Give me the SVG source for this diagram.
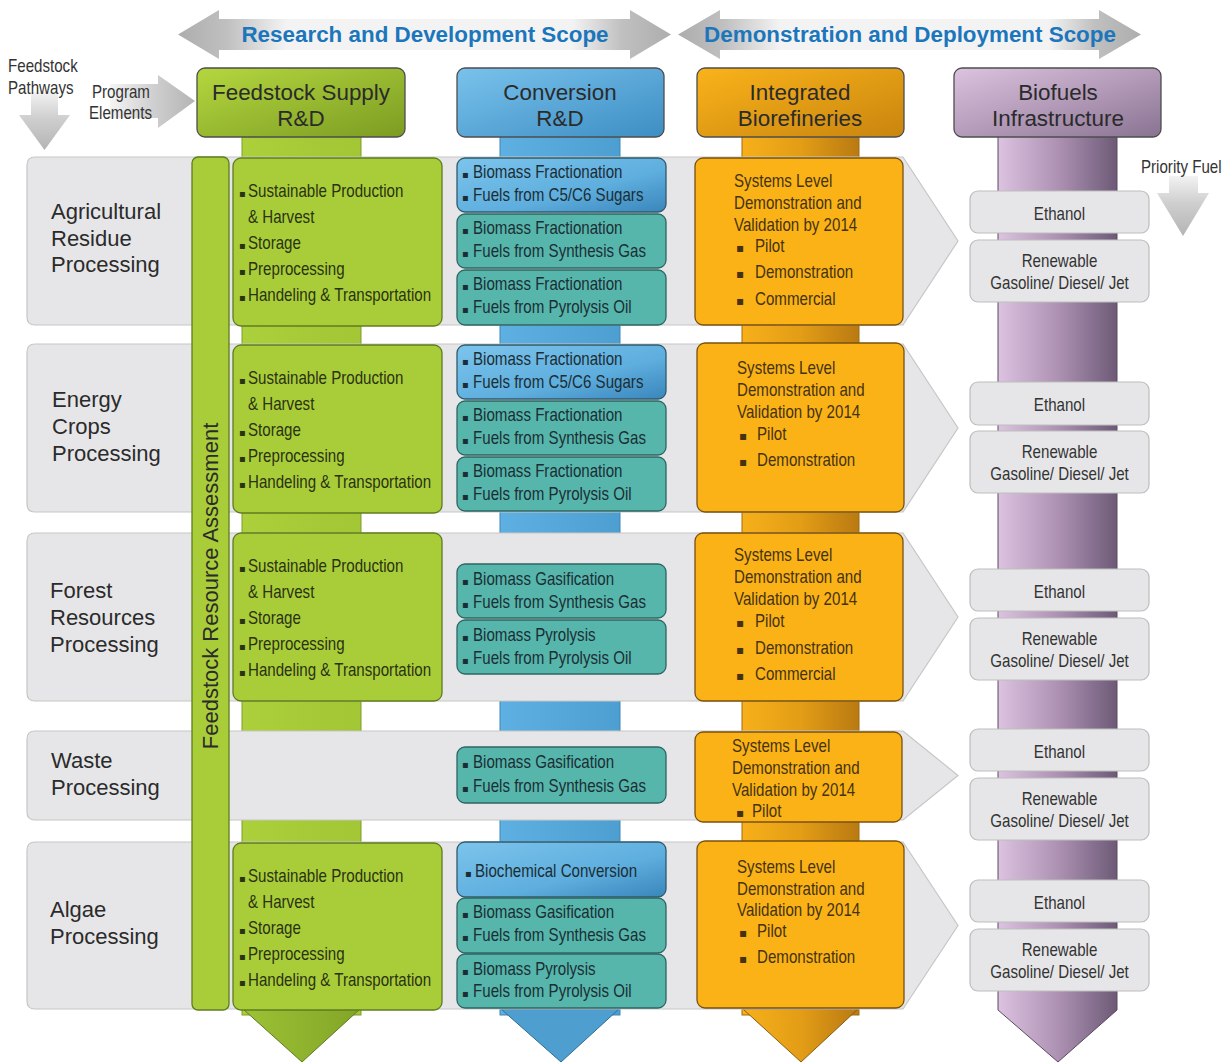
<svg xmlns="http://www.w3.org/2000/svg" width="1231" height="1064" viewBox="0 0 1231 1064">
<defs>
<linearGradient id="gScope" x1="0" y1="0" x2="1" y2="0">
<stop offset="0" stop-color="#adadad"/><stop offset="0.1" stop-color="#c0c0c0"/><stop offset="0.22" stop-color="#f3f3f3"/><stop offset="0.8" stop-color="#f3f3f3"/><stop offset="0.9" stop-color="#c0c0c0"/><stop offset="1" stop-color="#adadad"/>
</linearGradient>
<linearGradient id="gDown" x1="0" y1="0" x2="0" y2="1">
<stop offset="0" stop-color="#f2f2f2"/><stop offset="0.45" stop-color="#cfcfcf"/><stop offset="1" stop-color="#b4b4b4"/>
</linearGradient>
<linearGradient id="gRight" x1="0" y1="0" x2="1" y2="0">
<stop offset="0" stop-color="#f4f4f4"/><stop offset="0.5" stop-color="#d0d0d0"/><stop offset="1" stop-color="#b4b4b4"/>
</linearGradient>
<linearGradient id="gGreenH" x1="0" y1="0" x2="1" y2="1">
<stop offset="0" stop-color="#b4d73f"/><stop offset="1" stop-color="#7c9c22"/>
</linearGradient>
<linearGradient id="gBlueH" x1="0" y1="0" x2="1" y2="1">
<stop offset="0" stop-color="#79c2ec"/><stop offset="1" stop-color="#3d8ec4"/>
</linearGradient>
<linearGradient id="gOrangeH" x1="0" y1="0" x2="1" y2="1">
<stop offset="0" stop-color="#fab31a"/><stop offset="1" stop-color="#c9850f"/>
</linearGradient>
<linearGradient id="gPurpleH" x1="0" y1="0" x2="1" y2="1">
<stop offset="0" stop-color="#dcc4e0"/><stop offset="1" stop-color="#8a7292"/>
</linearGradient>
<linearGradient id="gGreenS" x1="0" y1="0" x2="1" y2="0">
<stop offset="0" stop-color="#acd03b"/><stop offset="1" stop-color="#a2c634"/>
</linearGradient>
<linearGradient id="gGreenT" x1="0" y1="0" x2="1" y2="0">
<stop offset="0" stop-color="#9cc235"/><stop offset="1" stop-color="#83a527"/>
</linearGradient>
<linearGradient id="gBlueS" x1="0" y1="0" x2="1" y2="0">
<stop offset="0" stop-color="#5eb0e2"/><stop offset="1" stop-color="#4d9fd2"/>
</linearGradient>
<linearGradient id="gOrangeS" x1="0" y1="0" x2="1" y2="0">
<stop offset="0" stop-color="#f7b01a"/><stop offset="0.5" stop-color="#e39d16"/><stop offset="1" stop-color="#b97a12"/>
</linearGradient>
<linearGradient id="gPurpleS" x1="0" y1="0" x2="1" y2="0">
<stop offset="0" stop-color="#dcc3e0"/><stop offset="0.5" stop-color="#ae92b4"/><stop offset="1" stop-color="#6d5a77"/>
</linearGradient>
<linearGradient id="gBlueBox" x1="0" y1="0" x2="1" y2="1">
<stop offset="0" stop-color="#7cc4ec"/><stop offset="0.6" stop-color="#5eaede"/><stop offset="1" stop-color="#3a86bc"/>
</linearGradient>
</defs>
<style>
.t{font-family:"Liberation Sans",Arial,sans-serif;fill:#2b2b2b}
.n{font-family:"Liberation Sans",Arial,sans-serif;font-size:18px}
.b{font-family:"DejaVu Sans",sans-serif;font-size:10px}
.bo{font-family:"DejaVu Sans",sans-serif;font-size:12px}
.scope{font-family:"Liberation Sans",Arial,sans-serif;font-weight:bold;font-size:22.4px;fill:#1b76bc}
.hd{font-size:22.4px;text-anchor:middle}
.lbl{font-size:22px}
.band{fill:#e6e6e8;stroke:#c6c6c6;stroke-width:1.2}
.gbox{fill:#a9cd39;stroke:#5f7c20;stroke-width:1.3}
.gtx{fill:#2a3212}
.bbox{fill:url(#gBlueBox);stroke:#2f5b6c;stroke-width:1.3}
.tbox{fill:#56b6ac;stroke:#2e6662;stroke-width:1.3}
.ctx{fill:#1c2e34}
.obox{fill:#fbb216;stroke:#7a5210;stroke-width:1.3}
.otx{fill:#453212}
.fbox{fill:#e6e6e8;stroke:#bdbdbd;stroke-width:1.2}
.ftx{fill:#333;text-anchor:middle}
.gry{fill:#333}
.hbox{stroke:#4d4d4d;stroke-width:1.3}
.stem{stroke-width:1}
</style>

<g id="connectors">
<polygon points="178,34.5 219,10 219,19 630,19 630,10 671,34.5 630,59 630,50 219,50 219,59" fill="url(#gScope)"/>
<polygon points="678,34.5 720,10 720,19 1099,19 1099,10 1141,34.5 1099,59 1099,50 720,50 720,59" fill="url(#gScope)"/>
<polygon points="31,92 58,92 58,115 70,115 44.5,150 19,115 31,115" fill="url(#gDown)"/>
<polygon points="110,84 158,84 158,75 195,101 158,128 158,118 110,118" fill="url(#gRight)"/>
<polygon points="1169,176 1198,176 1198,193 1209,193 1183,236 1157,193 1169,193" fill="url(#gDown)"/>
</g>

<g id="labels-top">
<text class="scope" x="425" y="42" text-anchor="middle">Research and Development Scope</text>
<text class="scope" x="910" y="42" text-anchor="middle">Demonstration and Deployment Scope</text>
<text class="n gry" transform="translate(8,72) scale(0.84,1)">Feedstock</text>
<text class="n gry" transform="translate(8,94) scale(0.84,1)">Pathways</text>
<text class="n gry" transform="translate(92,98) scale(0.84,1)">Program</text>
<text class="n gry" transform="translate(89,119) scale(0.84,1)">Elements</text>
<text class="n gry" transform="translate(1141,173) scale(0.84,1)">Priority Fuel</text>
</g>

<g id="stems">
<g id="stem-feedstock">
<rect x="242" y="130" width="119" height="885" fill="url(#gGreenS)" stroke="#7f9d2a" class="stem"/>
<polygon points="243,1009 360,1009 302,1062" fill="url(#gGreenT)" stroke="#5f7a20" stroke-width="1"/>
</g>
<g id="stem-conversion">
<rect x="500" y="130" width="120" height="885" fill="url(#gBlueS)" stroke="#3f86b3" class="stem"/>
<polygon points="501,1009 619,1009 561,1062" fill="#4e9fd0" stroke="#2f6d94" stroke-width="1"/>
</g>
<g id="stem-integrated">
<rect x="742" y="130" width="117" height="885" fill="url(#gOrangeS)" stroke="#a06a10" class="stem"/>
<polygon points="743,1009 858,1009 801,1062" fill="url(#gOrangeS)" stroke="#8a5a10" stroke-width="1"/>
</g>
<g id="stem-infrastructure">
<path d="M998,130 H1117 V1010 L1058,1062 L998,1010 Z" fill="url(#gPurpleS)" stroke="#5a4a62" stroke-width="1"/>
</g>
</g>

<g id="header-feedstock">
<rect class="hbox" x="197" y="68" width="208" height="69" rx="8" fill="url(#gGreenH)"/>
<text class="t hd" x="301" y="100">Feedstock Supply</text>
<text class="t hd" x="301" y="126">R&amp;D</text>
</g>
<g id="header-conversion">
<rect class="hbox" x="457" y="68" width="207" height="69" rx="8" fill="url(#gBlueH)"/>
<text class="t hd" x="560" y="100">Conversion</text>
<text class="t hd" x="560" y="126">R&amp;D</text>
</g>
<g id="header-integrated">
<rect class="hbox" x="697" y="68" width="207" height="69" rx="8" fill="url(#gOrangeH)"/>
<text class="t hd" x="800" y="100">Integrated</text>
<text class="t hd" x="800" y="126">Biorefineries</text>
</g>
<g id="header-infrastructure">
<rect class="hbox" x="954" y="68" width="207" height="69" rx="8" fill="url(#gPurpleH)"/>
<text class="t hd" x="1058" y="100">Biofuels</text>
<text class="t hd" x="1058" y="126">Infrastructure</text>
</g>

<g id="row-agricultural">
<path class="band" d="M35,157 H903 L958,241 L903,325 H35 Q27,325 27,317 V165 Q27,157 35,157 Z"/>
<text class="t lbl" x="51" y="219">Agricultural</text>
<text class="t lbl" x="51" y="246">Residue</text>
<text class="t lbl" x="51" y="272">Processing</text>
</g>
<g id="row-energy">
<path class="band" d="M35,344 H903 L958,428 L903,512 H35 Q27,512 27,504 V352 Q27,344 35,344 Z"/>
<text class="t lbl" x="52" y="407">Energy</text>
<text class="t lbl" x="52" y="434">Crops</text>
<text class="t lbl" x="52" y="461">Processing</text>
</g>
<g id="row-forest">
<path class="band" d="M35,533 H903 L958,617 L903,701 H35 Q27,701 27,693 V541 Q27,533 35,533 Z"/>
<text class="t lbl" x="50" y="598">Forest</text>
<text class="t lbl" x="50" y="625">Resources</text>
<text class="t lbl" x="50" y="652">Processing</text>
</g>
<g id="row-waste">
<path class="band" d="M35,731 H903 L958,775.5 L903,820 H35 Q27,820 27,812 V739 Q27,731 35,731 Z"/>
<text class="t lbl" x="51" y="768">Waste</text>
<text class="t lbl" x="51" y="795">Processing</text>
</g>
<g id="row-algae">
<path class="band" d="M35,842 H903 L958,925.5 L903,1009 H35 Q27,1009 27,1001 V850 Q27,842 35,842 Z"/>
<text class="t lbl" x="50" y="917">Algae</text>
<text class="t lbl" x="50" y="944">Processing</text>
</g>

<g id="feedstock-resource-assessment">
<rect class="gbox" x="192" y="157" width="37" height="853" rx="6"/>
<text class="t lbl" transform="translate(218,586) rotate(-90)" text-anchor="middle">Feedstock Resource Assessment</text>
</g>

<g id="feedstock-agricultural">
<rect class="gbox" x="233" y="158" width="209" height="168" rx="8"/>
<text class="b gtx" x="239" y="197">▪</text><text class="n gtx" transform="translate(248,197) scale(0.84,1)">Sustainable Production</text>
<text class="n gtx" transform="translate(248,223) scale(0.84,1)">&amp; Harvest</text>
<text class="b gtx" x="239" y="249">▪</text><text class="n gtx" transform="translate(248,249) scale(0.84,1)">Storage</text>
<text class="b gtx" x="239" y="275">▪</text><text class="n gtx" transform="translate(248,275) scale(0.84,1)">Preprocessing</text>
<text class="b gtx" x="239" y="301">▪</text><text class="n gtx" transform="translate(248,301) scale(0.84,1)">Handeling &amp; Transportation</text>
</g>
<g id="feedstock-energy">
<rect class="gbox" x="233" y="345" width="209" height="168" rx="8"/>
<text class="b gtx" x="239" y="384">▪</text><text class="n gtx" transform="translate(248,384) scale(0.84,1)">Sustainable Production</text>
<text class="n gtx" transform="translate(248,410) scale(0.84,1)">&amp; Harvest</text>
<text class="b gtx" x="239" y="436">▪</text><text class="n gtx" transform="translate(248,436) scale(0.84,1)">Storage</text>
<text class="b gtx" x="239" y="462">▪</text><text class="n gtx" transform="translate(248,462) scale(0.84,1)">Preprocessing</text>
<text class="b gtx" x="239" y="488">▪</text><text class="n gtx" transform="translate(248,488) scale(0.84,1)">Handeling &amp; Transportation</text>
</g>
<g id="feedstock-forest">
<rect class="gbox" x="233" y="533" width="209" height="168" rx="8"/>
<text class="b gtx" x="239" y="572">▪</text><text class="n gtx" transform="translate(248,572) scale(0.84,1)">Sustainable Production</text>
<text class="n gtx" transform="translate(248,598) scale(0.84,1)">&amp; Harvest</text>
<text class="b gtx" x="239" y="624">▪</text><text class="n gtx" transform="translate(248,624) scale(0.84,1)">Storage</text>
<text class="b gtx" x="239" y="650">▪</text><text class="n gtx" transform="translate(248,650) scale(0.84,1)">Preprocessing</text>
<text class="b gtx" x="239" y="676">▪</text><text class="n gtx" transform="translate(248,676) scale(0.84,1)">Handeling &amp; Transportation</text>
</g>
<g id="feedstock-algae">
<rect class="gbox" x="233" y="843" width="209" height="167" rx="8"/>
<text class="b gtx" x="239" y="882">▪</text><text class="n gtx" transform="translate(248,882) scale(0.84,1)">Sustainable Production</text>
<text class="n gtx" transform="translate(248,908) scale(0.84,1)">&amp; Harvest</text>
<text class="b gtx" x="239" y="934">▪</text><text class="n gtx" transform="translate(248,934) scale(0.84,1)">Storage</text>
<text class="b gtx" x="239" y="960">▪</text><text class="n gtx" transform="translate(248,960) scale(0.84,1)">Preprocessing</text>
<text class="b gtx" x="239" y="986">▪</text><text class="n gtx" transform="translate(248,986) scale(0.84,1)">Handeling &amp; Transportation</text>
</g>

<g id="conversion-agricultural">
<rect class="bbox" x="457" y="158" width="209" height="54" rx="8"/>
<text class="b ctx" x="462" y="178">▪</text><text class="n ctx" transform="translate(473,178) scale(0.84,1)">Biomass Fractionation</text>
<text class="b ctx" x="462" y="201">▪</text><text class="n ctx" transform="translate(473,201) scale(0.84,1)">Fuels from C5/C6 Sugars</text>
<rect class="tbox" x="457" y="214" width="209" height="54" rx="8"/>
<text class="b ctx" x="462" y="234">▪</text><text class="n ctx" transform="translate(473,234) scale(0.84,1)">Biomass Fractionation</text>
<text class="b ctx" x="462" y="257">▪</text><text class="n ctx" transform="translate(473,257) scale(0.84,1)">Fuels from Synthesis Gas</text>
<rect class="tbox" x="457" y="270" width="209" height="55" rx="8"/>
<text class="b ctx" x="462" y="290">▪</text><text class="n ctx" transform="translate(473,290) scale(0.84,1)">Biomass Fractionation</text>
<text class="b ctx" x="462" y="313">▪</text><text class="n ctx" transform="translate(473,313) scale(0.84,1)">Fuels from Pyrolysis Oil</text>
</g>
<g id="conversion-energy">
<rect class="bbox" x="457" y="345" width="209" height="54" rx="8"/>
<text class="b ctx" x="462" y="365">▪</text><text class="n ctx" transform="translate(473,365) scale(0.84,1)">Biomass Fractionation</text>
<text class="b ctx" x="462" y="388">▪</text><text class="n ctx" transform="translate(473,388) scale(0.84,1)">Fuels from C5/C6 Sugars</text>
<rect class="tbox" x="457" y="401" width="209" height="54" rx="8"/>
<text class="b ctx" x="462" y="421">▪</text><text class="n ctx" transform="translate(473,421) scale(0.84,1)">Biomass Fractionation</text>
<text class="b ctx" x="462" y="444">▪</text><text class="n ctx" transform="translate(473,444) scale(0.84,1)">Fuels from Synthesis Gas</text>
<rect class="tbox" x="457" y="457" width="209" height="54" rx="8"/>
<text class="b ctx" x="462" y="477">▪</text><text class="n ctx" transform="translate(473,477) scale(0.84,1)">Biomass Fractionation</text>
<text class="b ctx" x="462" y="500">▪</text><text class="n ctx" transform="translate(473,500) scale(0.84,1)">Fuels from Pyrolysis Oil</text>
</g>
<g id="conversion-forest">
<rect class="tbox" x="457" y="564" width="209" height="54" rx="8"/>
<text class="b ctx" x="462" y="585">▪</text><text class="n ctx" transform="translate(473,585) scale(0.84,1)">Biomass Gasification</text>
<text class="b ctx" x="462" y="608">▪</text><text class="n ctx" transform="translate(473,608) scale(0.84,1)">Fuels from Synthesis Gas</text>
<rect class="tbox" x="457" y="620" width="209" height="54" rx="8"/>
<text class="b ctx" x="462" y="641">▪</text><text class="n ctx" transform="translate(473,641) scale(0.84,1)">Biomass Pyrolysis</text>
<text class="b ctx" x="462" y="664">▪</text><text class="n ctx" transform="translate(473,664) scale(0.84,1)">Fuels from Pyrolysis Oil</text>
</g>
<g id="conversion-waste">
<rect class="tbox" x="457" y="747" width="209" height="56" rx="8"/>
<text class="b ctx" x="462" y="768">▪</text><text class="n ctx" transform="translate(473,768) scale(0.84,1)">Biomass Gasification</text>
<text class="b ctx" x="462" y="792">▪</text><text class="n ctx" transform="translate(473,792) scale(0.84,1)">Fuels from Synthesis Gas</text>
</g>
<g id="conversion-algae">
<rect class="bbox" x="457" y="842" width="209" height="55" rx="8"/>
<text class="b ctx" x="465" y="877">▪</text><text class="n ctx" transform="translate(475,877) scale(0.84,1)">Biochemical Conversion</text>
<rect class="tbox" x="457" y="898" width="209" height="55" rx="8"/>
<text class="b ctx" x="462" y="918">▪</text><text class="n ctx" transform="translate(473,918) scale(0.84,1)">Biomass Gasification</text>
<text class="b ctx" x="462" y="941">▪</text><text class="n ctx" transform="translate(473,941) scale(0.84,1)">Fuels from Synthesis Gas</text>
<rect class="tbox" x="457" y="954" width="209" height="54" rx="8"/>
<text class="b ctx" x="462" y="975">▪</text><text class="n ctx" transform="translate(473,975) scale(0.84,1)">Biomass Pyrolysis</text>
<text class="b ctx" x="462" y="997">▪</text><text class="n ctx" transform="translate(473,997) scale(0.84,1)">Fuels from Pyrolysis Oil</text>
</g>

<g id="integrated-agricultural">
<rect class="obox" x="695" y="158" width="208" height="167" rx="8"/>
<text class="n otx" transform="translate(734,187) scale(0.84,1)">Systems Level</text>
<text class="n otx" transform="translate(734,209) scale(0.84,1)">Demonstration and</text>
<text class="n otx" transform="translate(734,231) scale(0.84,1)">Validation by 2014</text>
<text class="bo otx" x="736" y="252">▪</text><text class="n otx" transform="translate(755,252) scale(0.84,1)">Pilot</text>
<text class="bo otx" x="736" y="278">▪</text><text class="n otx" transform="translate(755,278) scale(0.84,1)">Demonstration</text>
<text class="bo otx" x="736" y="305">▪</text><text class="n otx" transform="translate(755,305) scale(0.84,1)">Commercial</text>
</g>
<g id="integrated-energy">
<rect class="obox" x="697" y="343" width="207" height="169" rx="8"/>
<text class="n otx" transform="translate(737,374) scale(0.84,1)">Systems Level</text>
<text class="n otx" transform="translate(737,396) scale(0.84,1)">Demonstration and</text>
<text class="n otx" transform="translate(737,418) scale(0.84,1)">Validation by 2014</text>
<text class="bo otx" x="739" y="440">▪</text><text class="n otx" transform="translate(757,440) scale(0.84,1)">Pilot</text>
<text class="bo otx" x="739" y="466">▪</text><text class="n otx" transform="translate(757,466) scale(0.84,1)">Demonstration</text>
</g>
<g id="integrated-forest">
<rect class="obox" x="695" y="533" width="208" height="168" rx="8"/>
<text class="n otx" transform="translate(734,561) scale(0.84,1)">Systems Level</text>
<text class="n otx" transform="translate(734,583) scale(0.84,1)">Demonstration and</text>
<text class="n otx" transform="translate(734,605) scale(0.84,1)">Validation by 2014</text>
<text class="bo otx" x="736" y="627">▪</text><text class="n otx" transform="translate(755,627) scale(0.84,1)">Pilot</text>
<text class="bo otx" x="736" y="654">▪</text><text class="n otx" transform="translate(755,654) scale(0.84,1)">Demonstration</text>
<text class="bo otx" x="736" y="680">▪</text><text class="n otx" transform="translate(755,680) scale(0.84,1)">Commercial</text>
</g>
<g id="integrated-waste">
<rect class="obox" x="695" y="732" width="207" height="90" rx="8"/>
<text class="n otx" transform="translate(732,752) scale(0.84,1)">Systems Level</text>
<text class="n otx" transform="translate(732,774) scale(0.84,1)">Demonstration and</text>
<text class="n otx" transform="translate(732,796) scale(0.84,1)">Validation by 2014</text>
<text class="bo otx" x="736" y="817">▪</text><text class="n otx" transform="translate(752,817) scale(0.84,1)">Pilot</text>
</g>
<g id="integrated-algae">
<rect class="obox" x="697" y="841" width="207" height="167" rx="8"/>
<text class="n otx" transform="translate(737,873) scale(0.84,1)">Systems Level</text>
<text class="n otx" transform="translate(737,895) scale(0.84,1)">Demonstration and</text>
<text class="n otx" transform="translate(737,916) scale(0.84,1)">Validation by 2014</text>
<text class="bo otx" x="739" y="937">▪</text><text class="n otx" transform="translate(757,937) scale(0.84,1)">Pilot</text>
<text class="bo otx" x="739" y="963">▪</text><text class="n otx" transform="translate(757,963) scale(0.84,1)">Demonstration</text>
</g>

<g id="fuels-agricultural">
<rect class="fbox" x="970" y="191" width="179" height="42" rx="8"/>
<text class="n ftx" transform="translate(1059.5,220) scale(0.84,1)">Ethanol</text>
<rect class="fbox" x="970" y="240" width="179" height="62" rx="8"/>
<text class="n ftx" transform="translate(1059.5,267) scale(0.84,1)">Renewable</text>
<text class="n ftx" transform="translate(1059.5,289) scale(0.84,1)">Gasoline/ Diesel/ Jet</text>
</g>
<g id="fuels-energy">
<rect class="fbox" x="970" y="382" width="179" height="43" rx="8"/>
<text class="n ftx" transform="translate(1059.5,411) scale(0.84,1)">Ethanol</text>
<rect class="fbox" x="970" y="431" width="179" height="62" rx="8"/>
<text class="n ftx" transform="translate(1059.5,458) scale(0.84,1)">Renewable</text>
<text class="n ftx" transform="translate(1059.5,480) scale(0.84,1)">Gasoline/ Diesel/ Jet</text>
</g>
<g id="fuels-forest">
<rect class="fbox" x="970" y="569" width="179" height="42" rx="8"/>
<text class="n ftx" transform="translate(1059.5,598) scale(0.84,1)">Ethanol</text>
<rect class="fbox" x="970" y="618" width="179" height="62" rx="8"/>
<text class="n ftx" transform="translate(1059.5,645) scale(0.84,1)">Renewable</text>
<text class="n ftx" transform="translate(1059.5,667) scale(0.84,1)">Gasoline/ Diesel/ Jet</text>
</g>
<g id="fuels-waste">
<rect class="fbox" x="970" y="729" width="179" height="42" rx="8"/>
<text class="n ftx" transform="translate(1059.5,758) scale(0.84,1)">Ethanol</text>
<rect class="fbox" x="970" y="778" width="179" height="62" rx="8"/>
<text class="n ftx" transform="translate(1059.5,805) scale(0.84,1)">Renewable</text>
<text class="n ftx" transform="translate(1059.5,827) scale(0.84,1)">Gasoline/ Diesel/ Jet</text>
</g>
<g id="fuels-algae">
<rect class="fbox" x="970" y="880" width="179" height="42" rx="8"/>
<text class="n ftx" transform="translate(1059.5,909) scale(0.84,1)">Ethanol</text>
<rect class="fbox" x="970" y="929" width="179" height="62" rx="8"/>
<text class="n ftx" transform="translate(1059.5,956) scale(0.84,1)">Renewable</text>
<text class="n ftx" transform="translate(1059.5,978) scale(0.84,1)">Gasoline/ Diesel/ Jet</text>
</g>
</svg>
